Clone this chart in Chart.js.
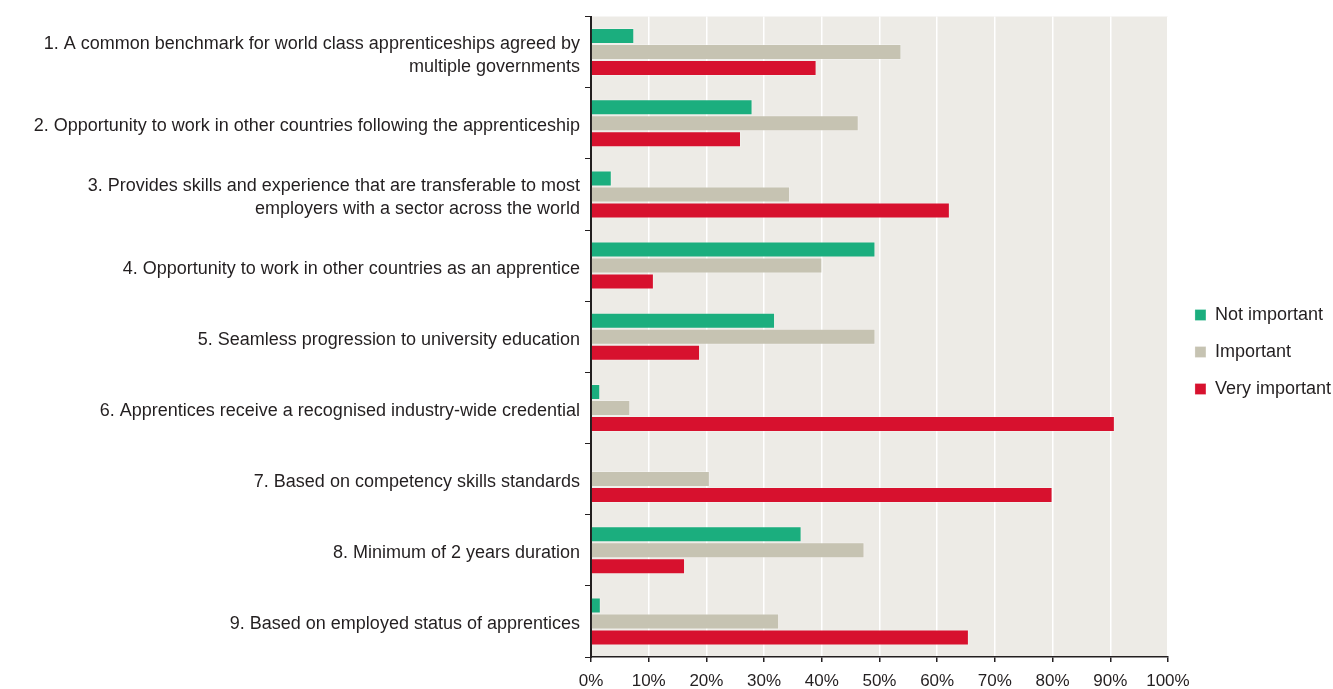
<!DOCTYPE html>
<html>
<head>
<meta charset="utf-8">
<script src="https://cdn.jsdelivr.net/npm/chart.js@4.4.1/dist/chart.umd.min.js"></script>
<style>
  html, body { margin: 0; padding: 0; background: #fff; }
  #wrap { width: 1333px; height: 689px; position: relative; }
</style>
</head>
<body>
<div id="wrap"><canvas id="chart"></canvas></div>
<script>
// -------------------------
// Data
// -------------------------
const CATEGORIES = [
  ["1. A common benchmark for world class apprenticeships agreed by", "multiple governments"],
  "2. Opportunity to work in other countries following the apprenticeship",
  ["3. Provides skills and experience that are transferable to most", "employers with a sector across the world"],
  "4. Opportunity to work in other countries as an apprentice",
  "5. Seamless progression to university education",
  "6. Apprentices receive a recognised industry-wide credential",
  "7. Based on competency skills standards",
  "8. Minimum of 2 years duration",
  "9. Based on employed status of apprentices"
];

const NOT_IMPORTANT = [7.5, 28.0, 3.6, 49.3, 31.9, 1.6, 0, 36.5, 1.7];
const IMPORTANT = [53.8, 46.4, 34.5, 40.1, 49.3, 6.8, 20.6, 47.4, 32.6];
const VERY_IMPORTANT = [39.1, 26.0, 62.2, 10.9, 18.9, 90.8, 80.0, 16.3, 65.5];

const X_TICKS = [0, 10, 20, 30, 40, 50, 60, 70, 80, 90, 100];

// -------------------------
// Styling
// -------------------------
const FONT = "'Liberation Sans', Arial, Helvetica, sans-serif";
const TEXT = "#231f20";
const PLOT_BG = "#edebe6";
const LABEL_COLUMN = 591;   // room for the long category labels
const X_AXIS_HEIGHT = 32;
const LEGEND_SHIFT = 8;

// fills the plot area behind the bars
const plotBackground = {
  id: 'plotBackground',
  beforeDraw(chart) {
    const { ctx, chartArea: a } = chart;
    ctx.save();
    ctx.fillStyle = PLOT_BG;
    ctx.fillRect(a.left, a.top, a.right - a.left, a.bottom - a.top);
    ctx.restore();
  }
};

// nudge the legend a little away from the plot
const legendNudge = {
  id: 'legendNudge',
  afterLayout(chart) {
    if (!chart.legend) return;
    chart.legend.left += LEGEND_SHIFT;
    chart.legend.right += LEGEND_SHIFT;
  }
};

const barStyle = (color) => ({
  backgroundColor: color,
  borderColor: 'rgba(255,255,255,0.25)',
  borderWidth: 1,
  borderSkipped: 'start',
  categoryPercentage: 0.675,
  barPercentage: 1.0
});

new Chart(document.getElementById('chart'), {
  type: 'bar',
  data: {
    labels: CATEGORIES,
    datasets: [
      { label: 'Not important', data: NOT_IMPORTANT, ...barStyle('#1bae7e') },
      { label: 'Important', data: IMPORTANT, ...barStyle('#c6c3b2') },
      { label: 'Very important', data: VERY_IMPORTANT, ...barStyle('#d7112e') }
    ]
  },
  options: {
    indexAxis: 'y',
    responsive: true,
    maintainAspectRatio: false,
    animation: false,
    layout: { padding: { top: 15, right: 0, left: 0, bottom: 0 } },
    plugins: {
      tooltip: { enabled: false },
      legend: {
        position: 'right',
        labels: {
          font: { family: FONT, size: 18 },
          color: TEXT,
          boxWidth: 11,
          boxHeight: 11,
          padding: 19,
          useBorderRadius: false
        }
      }
    },
    scales: {
      x: {
        min: 0,
        max: 100,
        afterBuildTicks: (axis) => { axis.ticks = X_TICKS.map(v => ({ value: v })); },
        afterFit: (axis) => { axis.height = X_AXIS_HEIGHT; },
        grid: {
          color: '#ffffff',
          lineWidth: 1.5,
          tickColor: TEXT,
          tickLength: 5
        },
        border: { color: TEXT, width: 1.5 },
        ticks: {
          font: { family: FONT, size: 17 },
          color: TEXT,
          padding: 9,
          maxRotation: 0,
          callback: (v) => `${v}%`
        }
      },
      y: {
        afterFit: (axis) => { axis.width = LABEL_COLUMN; },
        grid: {
          offset: true,
          drawOnChartArea: false,
          tickColor: TEXT,
          tickLength: 6
        },
        border: { color: TEXT, width: 2 },
        ticks: {
          font: { family: FONT, size: 18, lineHeight: 1.28 },
          color: TEXT,
          padding: 5,
          labelOffset: 3
        }
      }
    }
  },
  plugins: [plotBackground, legendNudge]
});
</script>
</body>
</html>
